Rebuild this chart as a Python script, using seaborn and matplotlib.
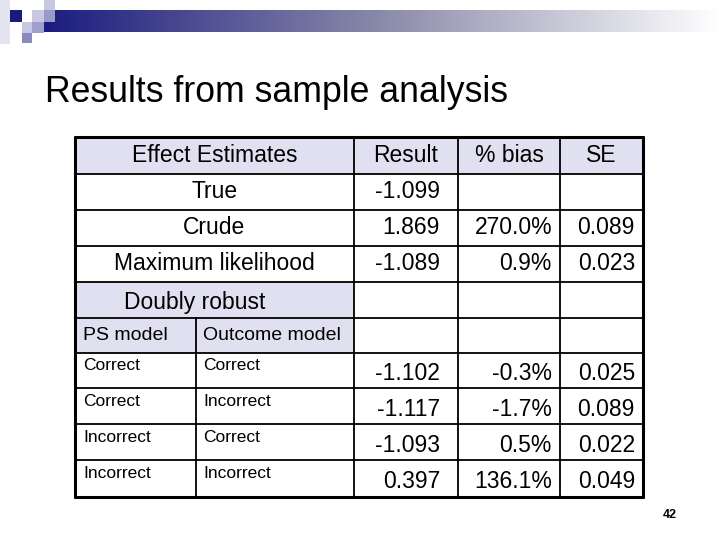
import numpy as np
import matplotlib
matplotlib.use("Agg")
import matplotlib.pyplot as plt
from matplotlib.patches import Rectangle
import seaborn as sns

sns.set_style("white")
plt.rcParams["font.family"] = "Liberation Sans"
plt.rcParams["text.color"] = "black"

# table data
header = ["Effect Estimates", "Result", "% bias", "SE"]
methods = ["True", "Crude", "Maximum likelihood"]
method_result = ["-1.099", "1.869", "-1.089"]
method_bias = ["", "270.0%", "0.9%"]
method_se = ["", "0.089", "0.023"]
ps_model = ["Correct", "Correct", "Incorrect", "Incorrect"]
outcome_model = ["Correct", "Incorrect", "Correct", "Incorrect"]
dr_result = ["-1.102", "-1.117", "-1.093", "0.397"]
dr_bias = ["-0.3%", "-1.7%", "0.5%", "136.1%"]
dr_se = ["0.025", "0.089", "0.022", "0.049"]

fig = plt.figure(figsize=(7.2, 5.4), dpi=100)
ax = fig.add_axes([0, 0, 1, 1])
ax.set_xlim(0, 720)
ax.set_ylim(540, 0)
ax.axis("off")

# slide decoration
navy = "#1a1a7a"
grad = np.linspace(0, 1, 256)[None, :]
cmap = matplotlib.colors.LinearSegmentedColormap.from_list("g", ["#1c1c80", "#8a8aaa", "#ffffff"])
ax.imshow(grad, extent=[44, 720, 32, 10], cmap=cmap, aspect="auto", zorder=1)
for (x, y, w, h, c) in [(0, 0, 10, 44, "#e4e4f0"), (10, 10, 12, 12, navy),
                        (32, 10, 12, 12, "#c8c8e0"), (44, 0, 11, 10, "#c8c8e0"),
                        (44, 10, 11, 12, "#9a9ac8"), (22, 22, 10, 11, "#c8c8e0"),
                        (32, 22, 12, 11, "#a0a0cc"), (22, 33, 10, 10, "#8a8abc")]:
    ax.add_patch(Rectangle((x, y), w, h, color=c, lw=0, zorder=2))

ax.text(45, 92, "Results from sample analysis", fontsize=25.7, va="center", ha="left")
ax.text(670, 515, "42", fontsize=9, fontweight="bold", ha="center", va="center")

# table geometry
xl, xs, xr1, xr2, xr3, xR = 75, 196, 354, 458, 560, 643
ys = [137, 174, 210, 246, 282, 318, 353, 388, 424, 460, 497]
shade = "#e0e0f0"

ax.add_patch(Rectangle((xl, ys[0]), xR - xl, ys[1] - ys[0], color=shade, lw=0))
ax.add_patch(Rectangle((xl, ys[4]), xr1 - xl, ys[6] - ys[4], color=shade, lw=0))

lw = 1.3
for i, y in enumerate(ys):
    ax.plot([xl, xR], [y, y], color="black", lw=lw if 0 < i < 10 else 2.2, zorder=5)
for x in [xl, xr1, xr2, xr3, xR]:
    ax.plot([x, x], [ys[0], ys[-1]], color="black", lw=2.2 if x in (xl, xR) else lw, zorder=5)
ax.plot([xs, xs], [ys[5], ys[-1]], color="black", lw=lw, zorder=5)

fs = 16.5
cx = [(xl + xr1) / 2, (xr1 + xr2) / 2, (xr2 + xr3) / 2, (xr3 + xR) / 2]
for c, t in zip(cx, header):
    ax.text(c, (ys[0] + ys[1]) / 2, t, fontsize=fs, ha="center", va="center")

pad = 8
for i, m in enumerate(methods):
    yc = (ys[i + 1] + ys[i + 2]) / 2
    ax.text(cx[0], yc, m, fontsize=fs, ha="center", va="center")
    ax.text(xr2 - pad - 10, yc, method_result[i], fontsize=fs, ha="right", va="center")
    ax.text(xr3 - pad, yc, method_bias[i], fontsize=fs, ha="right", va="center")
    ax.text(xR - pad, yc, method_se[i], fontsize=fs, ha="right", va="center")

ax.text(cx[0] - 20, (ys[4] + ys[5]) / 2 + 2, "Doubly robust", fontsize=fs, ha="center", va="center")
ax.text(xl + 8, (ys[5] + ys[6]) / 2, "PS model", fontsize=14, ha="left", va="center")
ax.text(xs + 7, (ys[5] + ys[6]) / 2, "Outcome model", fontsize=14, ha="left", va="center")

for i in range(4):
    y0, y1 = ys[i + 6], ys[i + 7]
    ax.text(xl + 8, y0 + 13, ps_model[i], fontsize=12.5, ha="left", va="center")
    ax.text(xs + 7, y0 + 13, outcome_model[i], fontsize=12.5, ha="left", va="center")
    yc = (y0 + y1) / 2 + 3
    ax.text(xr2 - pad - 10, yc, dr_result[i], fontsize=fs, ha="right", va="center")
    ax.text(xr3 - pad, yc, dr_bias[i], fontsize=fs, ha="right", va="center")
    ax.text(xR - pad, yc, dr_se[i], fontsize=fs, ha="right", va="center")

fig.savefig("out.png", dpi=100)
